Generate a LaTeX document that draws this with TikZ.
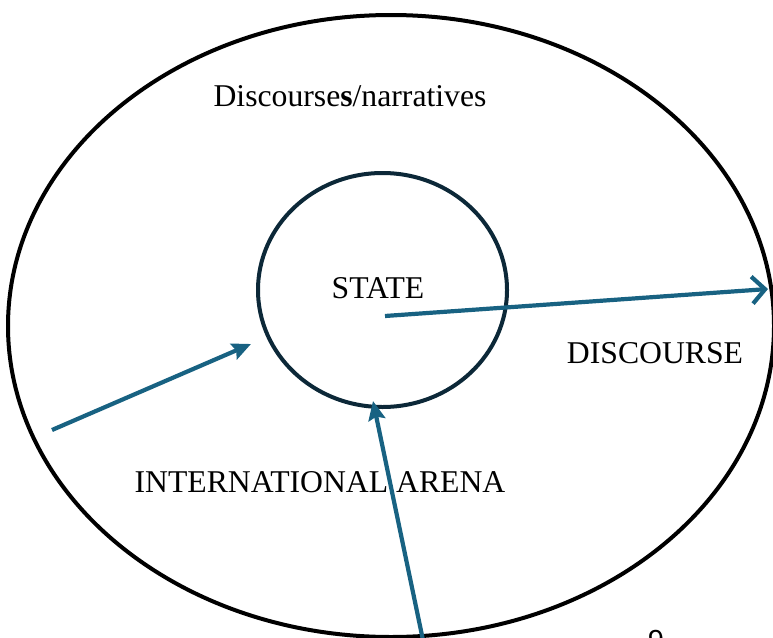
\documentclass[tikz,border=0pt]{standalone}
\usepackage{fontspec}
\setmainfont{Liberation Serif}
\newfontfamily\pagenumfont{Liberation Sans}
\usetikzlibrary{arrows.meta,shapes.geometric}
\definecolor{arrowblue}{RGB}{24,98,130}
\definecolor{statenavy}{RGB}{12,40,56}
\tikzset{every node/.style={font=\fontsize{31.7}{34}\selectfont},
	textlabel/.style={inner sep=0pt},
	statecircle/.style={draw=statenavy,line width=4pt,ellipse,minimum width=249pt,minimum height=234pt,inner sep=0pt},
	inarrow/.style={draw=arrowblue,line width=4.2pt,-{Stealth[length=19pt,width=17pt,inset=3pt]}},
	outarrow/.style={draw=arrowblue,line width=4.2pt,-{Straight Barb[length=13pt,width=27pt]}}}

\begin{document}
\begin{tikzpicture}[x=1pt,y=-1pt]
			\useasboundingbox (0,0) rectangle (773,637);
			\draw[line width=4pt] (391,326) ellipse [x radius=383,y radius=311];
			\node[statecircle] (S) at (382.5,290) {};
			
			\node[textlabel] (N) at (350,96) {Discourse\textbf{s}/narratives};
			\node[textlabel] (T) at (378,288.5) {STATE};
			\node[textlabel] (D) at (655,353.5) {DISCOURSE};
			\node[textlabel] (I) at (320,482) {INTERNATIONAL ARENA};
			\node[textlabel,font=\pagenumfont\fontsize{29}{32}\selectfont] (P) at (656,641) {9};
			
			\coordinate (L) at (52,430);
			\coordinate (LE) at (251,344);
			\coordinate (C) at (385,316);
			\coordinate (R) at (768,289);
			\coordinate (B) at (424,645);
			\coordinate (BE) at (373,401);
		
			\draw [inarrow] (L) -- (LE);
			\draw [outarrow] (C) -- (R);
			\draw [inarrow] (B) -- (BE);
		\end{tikzpicture}
\end{document}
